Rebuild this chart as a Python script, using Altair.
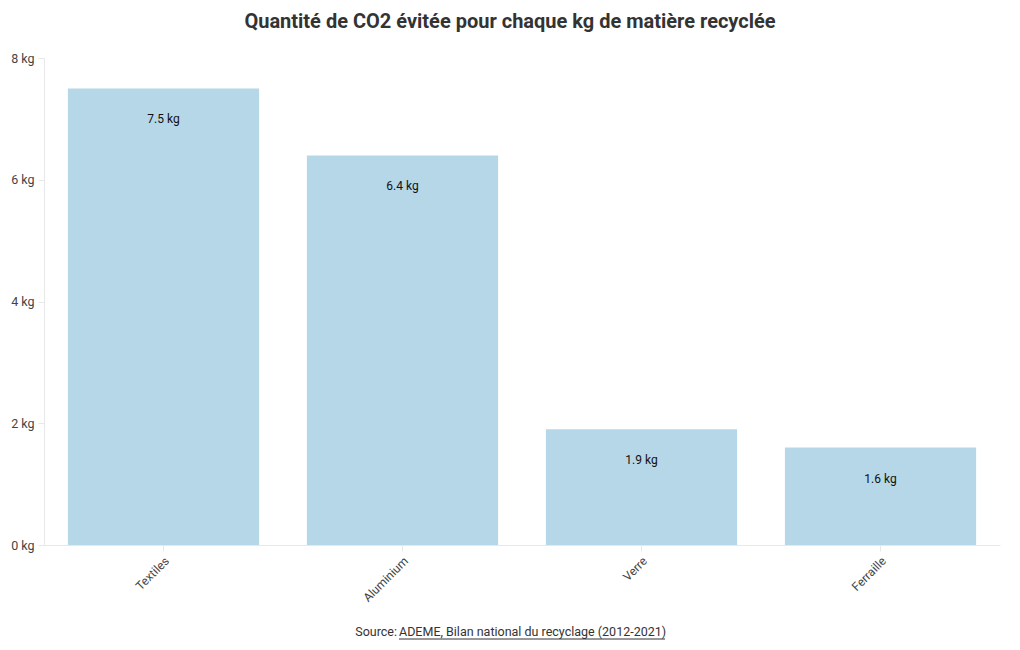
import altair as alt
import pandas as pd

categories = ["Textiles", "Aluminium", "Verre", "Ferraille"]
values = [7.5, 6.4, 1.9, 1.6]
labels = ["7.5 kg", "6.4 kg", "1.9 kg", "1.6 kg"]

df = pd.DataFrame({"cat": categories, "val": values, "lab": labels})

FONT = "Roboto"
W, H = 956, 487

x = alt.X("cat:N", sort=categories, title=None,
          scale=alt.Scale(paddingInner=0.2, paddingOuter=0.1),
          axis=alt.Axis(labelAngle=-45, labelFontSize=12, labelColor="#444",
                        labelFont=FONT, domainColor="#e8e8e8", tickColor="#e8e8e8",
                        tickSize=6, labelPadding=4))
y = alt.Y("val:Q", title=None, scale=alt.Scale(domain=[0, 8]),
          axis=alt.Axis(values=[0, 2, 4, 6, 8], labelExpr="datum.value + ' kg'",
                        grid=False, labelFontSize=12.5, labelColor="#444", labelFont=FONT,
                        domainColor="#e8e8e8", tickColor="#e8e8e8", tickSize=6,
                        labelPadding=4))

bars = alt.Chart(df).mark_bar(color="#b6d7e8").encode(x=x, y=y)
text = alt.Chart(df).mark_text(baseline="middle", dy=31, fontSize=12, font=FONT,
                               color="#111").encode(x=alt.X("cat:N", sort=categories), y="val:Q", text="lab:N")

src = pd.DataFrame({"a": ["Source:"], "b": ["ADEME, Bilan national du recyclage (2012-2021)"]})
src1 = alt.Chart(src).mark_text(align="right", baseline="middle", fontSize=12.5, font=FONT,
                                color="#333").encode(text="a:N", x=alt.value(353), y=alt.value(H + 87))
src2 = alt.Chart(src).mark_text(align="left", baseline="middle", fontSize=12.5, font=FONT,
                                color="#333").encode(text="b:N", x=alt.value(355), y=alt.value(H + 87))
underline = alt.Chart(src).mark_rule(color="#333", strokeWidth=1).encode(
    x=alt.value(355), x2=alt.value(621), y=alt.value(H + 94))

chart = alt.layer(bars, text, src1, src2, underline).properties(
    width=W, height=H,
    title=alt.TitleParams("Quantité de CO2 évitée pour chaque kg de matière recyclée",
                          font=FONT, fontSize=20, fontWeight="bold", color="#333",
                          anchor="middle", dx=-12, offset=20),
    autosize=alt.AutoSizeParams(type="none"),
    padding={"left": 36, "top": 50, "right": 12, "bottom": 97},
).configure_view(stroke=None)

chart.save("out.html", embed_options={"renderer": "svg", "actions": False})
